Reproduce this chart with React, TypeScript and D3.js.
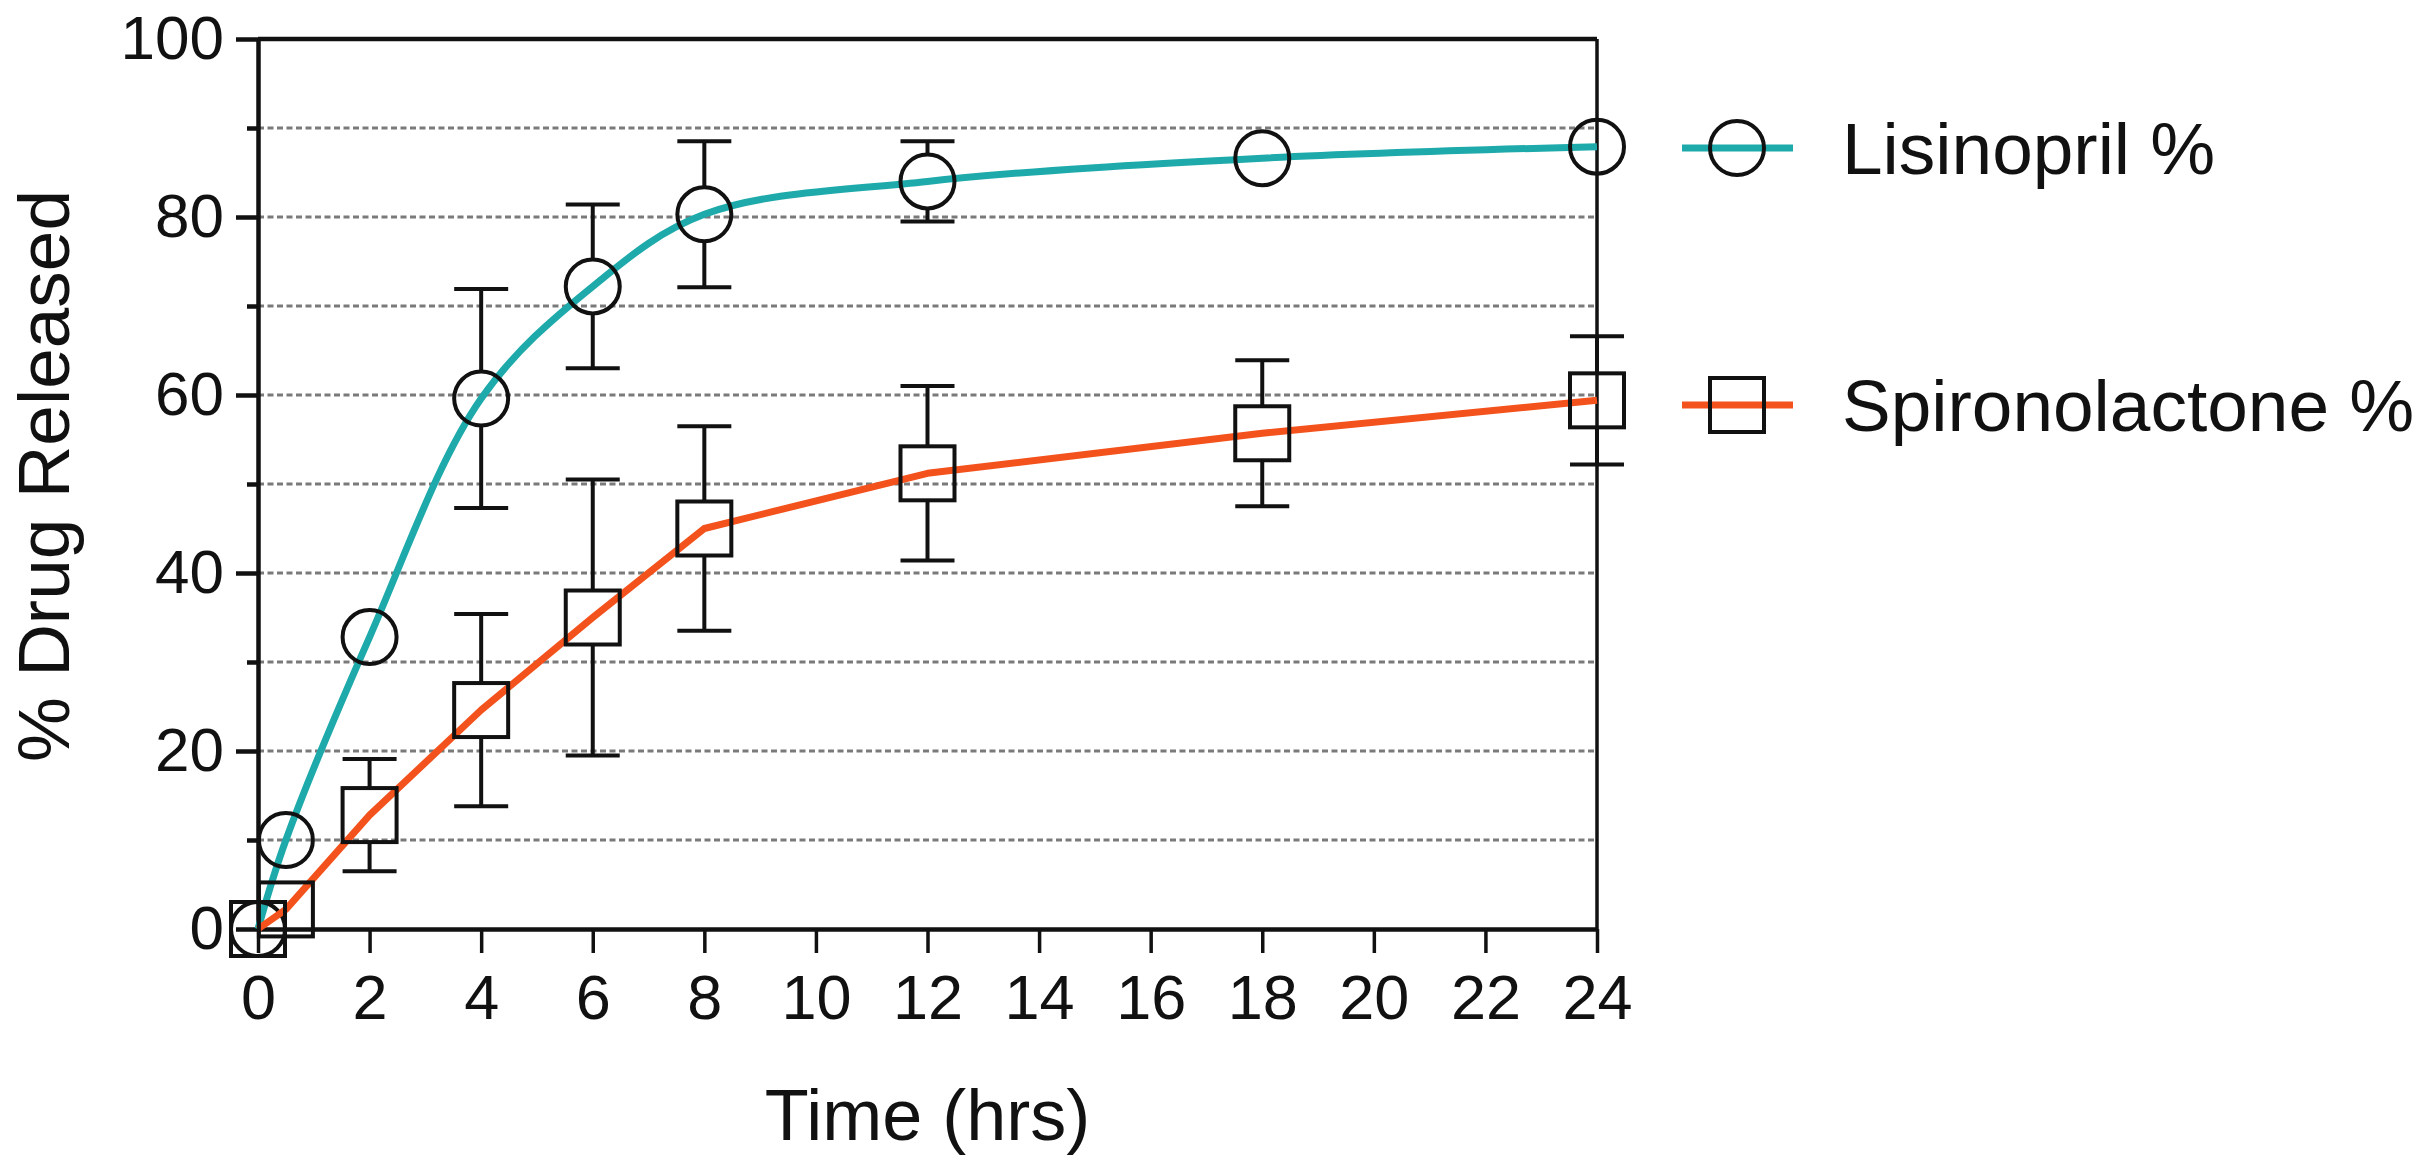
import React, { useEffect, useRef } from 'react';
import * as d3 from 'd3';

// Release profile
const TIME_HRS = [0, 0.5, 2, 4, 6, 8, 12, 18, 24];
const LISINOPRIL_MEAN = [0, 10, 32.8, 59.6, 72.2, 80.3, 84.0, 86.6, 87.9];
const LISINOPRIL_SD = [0, 0, 0, 12.3, 9.2, 8.2, 4.5, 0, 0];
const SPIRONOLACTONE_MEAN = [0, 2.2, 12.8, 24.6, 35.0, 45.0, 51.2, 55.7, 59.4];
const SPIRONOLACTONE_SD = [0, 0, 6.3, 10.8, 15.5, 11.5, 9.8, 8.2, 7.2];

const X_TICKS = [0, 2, 4, 6, 8, 10, 12, 14, 16, 18, 20, 22, 24];
const Y_MAJOR = [0, 20, 40, 60, 80, 100];
const Y_MINOR = [10, 30, 50, 70, 90];
const Y_GRID = [10, 20, 30, 40, 50, 60, 70, 80, 90];

const SERIES_NAMES = ['Lisinopril %', 'Spironolactone %'];
const SERIES_COLORS = ['#1eaaaa', '#f4521c'];

const FONT = '"Liberation Sans", Arial, Helvetica, sans-serif';

interface Point {
  t: number;
  mean: number;
  sd: number;
}

const App: React.FC = () => {
  const svgRef = useRef<SVGSVGElement>(null);

  useEffect(() => {
    if (!svgRef.current) return;
    const svg = d3.select(svgRef.current);
    svg.selectAll('*').remove();

    const width = 2424;
    const height = 1163;
    svg.attr('width', width).attr('height', height);

    const left = 258;
    const right = 1597;
    const top = 39;
    const bottom = 929;

    const xScale = d3.scaleLinear().domain([0, 24]).range([left, right]);
    const yScale = d3.scaleLinear().domain([0, 100]).range([bottom, top]);

    const series: Point[][] = [
      TIME_HRS.map((t, i) => ({ t, mean: LISINOPRIL_MEAN[i], sd: LISINOPRIL_SD[i] })),
      TIME_HRS.map((t, i) => ({ t, mean: SPIRONOLACTONE_MEAN[i], sd: SPIRONOLACTONE_SD[i] })),
    ];

    svg.append('rect').attr('width', width).attr('height', height).attr('fill', '#fff');

    // dotted grid lines
    svg.append('g')
      .selectAll('line')
      .data(Y_GRID)
      .enter()
      .append('line')
      .attr('x1', left)
      .attr('x2', right)
      .attr('y1', d => yScale(d))
      .attr('y2', d => yScale(d))
      .attr('stroke', '#7a7a7a')
      .attr('stroke-width', 3)
      .attr('stroke-dasharray', '6,3.5');

    // frame top / right
    svg.append('line')
      .attr('x1', left).attr('x2', right)
      .attr('y1', yScale(100)).attr('y2', yScale(100))
      .attr('stroke', '#111').attr('stroke-width', 4.5);
    svg.append('line')
      .attr('x1', right).attr('x2', right)
      .attr('y1', yScale(100)).attr('y2', yScale(0))
      .attr('stroke', '#111').attr('stroke-width', 3.5);

    // Y axis (major + minor)
    svg.append('g')
      .attr('transform', `translate(${left}, 0)`)
      .call(d3.axisLeft(yScale).tickValues(Y_MINOR).tickSize(11).tickFormat(() => ''))
      .call(g => g.select('.domain').remove())
      .call(g => g.selectAll('.tick line').attr('stroke', '#111').attr('stroke-width', 4.5));

    svg.append('g')
      .attr('transform', `translate(${left}, 0)`)
      .call(d3.axisLeft(yScale).tickValues(Y_MAJOR).tickSize(22).tickSizeOuter(0).tickPadding(12).tickFormat(d3.format('d')))
      .call(g => g.select('.domain').attr('stroke', '#111').attr('stroke-width', 4.5))
      .call(g => g.selectAll('.tick line').attr('stroke', '#111').attr('stroke-width', 4.5))
      .call(g => g.selectAll('.tick text').attr('fill', '#111').attr('font-size', '62px').attr('font-family', FONT));

    // X axis
    svg.append('g')
      .attr('transform', `translate(0, ${bottom})`)
      .call(d3.axisBottom(xScale).tickValues(X_TICKS).tickSize(24).tickSizeOuter(0).tickPadding(21).tickFormat(d3.format('d')))
      .call(g => g.select('.domain').attr('stroke', '#111').attr('stroke-width', 4.5))
      .call(g => g.selectAll('.tick line').attr('stroke', '#111').attr('stroke-width', 3.5))
      .call(g => g.selectAll('.tick text').attr('fill', '#111').attr('font-size', '63px').attr('font-family', FONT));

    // Axis titles
    svg.append('text')
      .attr('transform', `translate(69, 476) rotate(-90)`)
      .attr('text-anchor', 'middle')
      .attr('font-family', FONT)
      .attr('font-size', '73px')
      .attr('fill', '#111')
      .text('% Drug Released');

    svg.append('text')
      .attr('x', (left + right) / 2)
      .attr('y', 1140)
      .attr('text-anchor', 'middle')
      .attr('font-family', FONT)
      .attr('font-size', '72px')
      .attr('fill', '#111')
      .text('Time (hrs)');

    const markerR = 27;
    const drawMarker = (g: d3.Selection<SVGGElement, unknown, null, undefined>, kind: number, cx: number, cy: number) => {
      if (kind === 0) {
        g.append('circle')
          .attr('cx', cx).attr('cy', cy).attr('r', markerR)
          .attr('fill', 'none').attr('stroke', '#111').attr('stroke-width', 4);
      } else {
        g.append('rect')
          .attr('x', cx - markerR).attr('y', cy - markerR)
          .attr('width', markerR * 2).attr('height', markerR * 2)
          .attr('fill', 'none').attr('stroke', '#111').attr('stroke-width', 4);
      }
    };

    series.forEach((points, i) => {
      const color = SERIES_COLORS[i];
      const line = d3.line<Point>()
        .x(d => xScale(d.t))
        .y(d => yScale(d.mean))
        .curve(i === 0 ? d3.curveCatmullRom.alpha(0.5) : d3.curveLinear);

      svg.append('path')
        .datum(points)
        .attr('fill', 'none')
        .attr('stroke', color)
        .attr('stroke-width', 7)
        .attr('stroke-linejoin', 'round')
        .attr('d', line);

      // error bars start at the marker edge
      const errG = svg.append('g');
      points.filter(p => p.sd > 0).forEach(p => {
        const cx = xScale(p.t);
        const cy = yScale(p.mean);
        const yTop = yScale(p.mean + p.sd);
        const yBot = yScale(p.mean - p.sd);
        if (cy - markerR > yTop) {
          errG.append('line').attr('x1', cx).attr('x2', cx).attr('y1', cy - markerR).attr('y2', yTop)
            .attr('stroke', '#111').attr('stroke-width', 4);
        }
        if (cy + markerR < yBot) {
          errG.append('line').attr('x1', cx).attr('x2', cx).attr('y1', cy + markerR).attr('y2', yBot)
            .attr('stroke', '#111').attr('stroke-width', 4);
        }
        [yTop, yBot].forEach(yy => {
          errG.append('line').attr('x1', cx - markerR).attr('x2', cx + markerR).attr('y1', yy).attr('y2', yy)
            .attr('stroke', '#111').attr('stroke-width', 4);
        });
      });

      const markG = svg.append('g');
      points.forEach(p => drawMarker(markG, i, xScale(p.t), yScale(p.mean)));
    });

    // Legend
    const legendY = [148, 405];
    SERIES_NAMES.forEach((name, i) => {
      const g = svg.append('g');
      g.append('line')
        .attr('x1', 1682).attr('x2', 1793)
        .attr('y1', legendY[i]).attr('y2', legendY[i])
        .attr('stroke', SERIES_COLORS[i]).attr('stroke-width', 7);
      drawMarker(g, i, 1737, legendY[i]);
      g.append('text')
        .attr('x', 1842)
        .attr('y', legendY[i] + 26)
        .attr('font-family', FONT)
        .attr('font-size', '73px')
        .attr('fill', '#111')
        .text(name);
    });
  }, []);

  return (
    <div style={{ position: 'absolute', left: 0, top: 0 }}>
      <svg ref={svgRef} style={{ display: 'block' }} />
    </div>
  );
};

export default App;
